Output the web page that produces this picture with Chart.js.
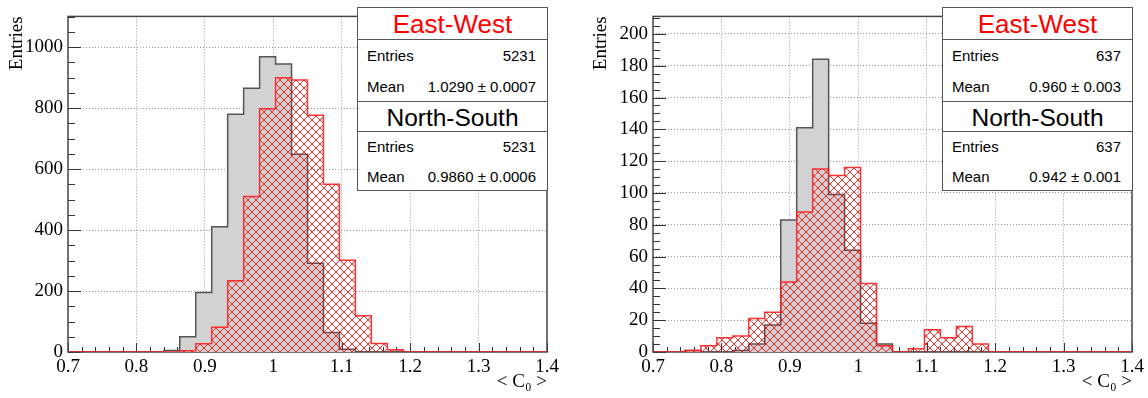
<!DOCTYPE html>
<html>
<head>
<meta charset="utf-8">
<script src="https://cdn.jsdelivr.net/npm/chart.js@4/dist/chart.umd.min.js"></script>
<style>
  html, body { margin: 0; padding: 0; background: #fff; }
  #wrap { position: relative; width: 1148px; height: 398px; }
  canvas { position: absolute; top: 0; }
  .stats {
    position: absolute; width: 191px; background: #fff;
    border: 1px solid #555; box-sizing: border-box;
    font-family: 'Liberation Sans', Arial, sans-serif; color: #000;
  }
  .stats .head { text-align: center; border-bottom: 1px solid #555; }
  .stats .row { display: flex; justify-content: space-between; padding: 0 11px 0 9px; font-size: 15px; }
  .ew { top: 7px; height: 96px; }
  .ew .head { height: 31px; line-height: 32px; font-size: 26px; color: #ff0000; }
  .ew .row { height: 31px; line-height: 31px; }
  .ns { top: 101px; height: 90px; }
  .ns .head { height: 29px; line-height: 31px; font-size: 24.5px; }
  .ns .row { height: 29.5px; line-height: 29.5px; }
</style>
</head>
<body>
<div id="wrap">
  <canvas id="leftChart" width="574" height="398" style="left:0"></canvas>
  <canvas id="rightChart" width="574" height="398" style="left:574px"></canvas>

  <div class="stats ew" style="left:357px">
    <div class="head">East-West</div>
    <div class="row"><span>Entries</span><span>5231</span></div>
    <div class="row"><span>Mean</span><span>1.0290 ± 0.0007</span></div>
  </div>
  <div class="stats ns" style="left:357px">
    <div class="head">North-South</div>
    <div class="row"><span>Entries</span><span>5231</span></div>
    <div class="row"><span>Mean</span><span>0.9860 ± 0.0006</span></div>
  </div>

  <div class="stats ew" style="left:942px">
    <div class="head">East-West</div>
    <div class="row"><span>Entries</span><span>637</span></div>
    <div class="row"><span>Mean</span><span>0.960 ± 0.003</span></div>
  </div>
  <div class="stats ns" style="left:942px">
    <div class="head">North-South</div>
    <div class="row"><span>Entries</span><span>637</span></div>
    <div class="row"><span>Mean</span><span>0.942 ± 0.001</span></div>
  </div>
</div>

<script>
// histogram binning: 30 bins between 0.7 and 1.4
const X_MIN = 0.7;
const X_MAX = 1.4;
const N_BINS = 30;

const xTickLabels = ['0.7', '0.8', '0.9', '1', '1.1', '1.2', '1.3', '1.4'];
const leftYTicks = [0, 200, 400, 600, 800, 1000];
const rightYTicks = [0, 20, 40, 60, 80, 100, 120, 140, 160, 180, 200];

// bin contents, left panel
const leftNorthSouth = [0, 0, 0, 0, 0, 0, 5, 50, 195, 411, 780, 865, 969, 945, 649, 291, 64, 9, 1, 0,
                        0, 0, 0, 0, 0, 0, 0, 0, 0, 0];
const leftEastWest = [0, 0, 0, 0, 0, 0, 0, 4, 27, 81, 234, 510, 798, 900, 892, 777, 550, 301, 119, 28,
                      7, 0, 0, 0, 0, 0, 0, 0, 0, 0];

// bin contents, right panel
const rightNorthSouth = [0, 0, 1, 0, 0, 1, 5, 17, 83, 141, 184, 99, 64, 18, 5, 0, 0, 0, 0, 0,
                         0, 0, 0, 0, 0, 0, 0, 0, 0, 0];
const rightEastWest = [0, 0, 1, 4, 9, 10, 21, 25, 44, 88, 115, 111, 116, 43, 4, 0, 2, 14, 9, 16,
                       5, 0, 0, 0, 0, 0, 0, 0, 0, 0];

const serif = "'Liberation Serif', 'Times New Roman', serif";
const gridGrey = '#9a9a9a';
const clear = 'rgba(0,0,0,0)';

// points at the left edge of every bin, drawn as a step line
function steps(values) {
    const w = (X_MAX - X_MIN) / N_BINS;
    const pts = values.map((v, i) => ({x: X_MIN + i * w, y: v}));
    pts.push({x: X_MAX, y: 0});
    return pts;
}

function crossHatch(color) {
    const c = document.createElement('canvas');
    c.width = 8;
    c.height = 8;
    const g = c.getContext('2d');
    g.strokeStyle = color;
    g.lineWidth = 1;
    g.beginPath();
    g.moveTo(-2, -2); g.lineTo(10, 10);
    g.moveTo(-2, 10); g.lineTo(10, -2);
    g.stroke();
    return g.createPattern(c, 'repeat');
}

// ROOT style frame with inward tick marks
const frameTicks = {
    id: 'frameTicks',
    beforeDatasetsDraw(chart, args, opts) {
        const {ctx, chartArea: a, scales: {x, y}} = chart;
        ctx.save();
        ctx.strokeStyle = '#333';
        ctx.lineWidth = 1;
        ctx.beginPath();
        for (let i = 0; i * opts.yMinor <= y.max; i++) {
            const py = Math.round(y.getPixelForValue(i * opts.yMinor)) + 0.5;
            const len = (i * opts.yMinor) % opts.yMajor === 0 ? 13 : 7;
            ctx.moveTo(a.left, py);
            ctx.lineTo(a.left + len, py);
        }
        for (let i = 0; i <= 35; i++) {
            const px = Math.round(x.getPixelForValue(X_MIN + i * 0.02)) + 0.5;
            const len = i % 5 === 0 ? 9 : 5;
            ctx.moveTo(px, a.bottom);
            ctx.lineTo(px, a.bottom - len);
        }
        ctx.stroke();
        ctx.lineWidth = 1.5;
        ctx.strokeStyle = '#444';
        ctx.strokeRect(a.left, a.top, a.right - a.left, a.bottom - a.top);
        ctx.restore();
    }
};

function createHistChart(id, northSouth, eastWest, yMax, yTicks, yMinor, yWidth, padRight, titlePad) {
    const ctx = document.getElementById(id).getContext('2d');
    new Chart(ctx, {
        type: 'line',
        data: {
            datasets: [
                {
                    label: 'East-West',
                    data: steps(eastWest),
                    stepped: 'before',
                    fill: 'origin',
                    backgroundColor: crossHatch('rgba(255, 0, 0, 0.8)'),
                    borderColor: 'rgba(255, 30, 30, 0.9)',
                    borderWidth: 1.5,
                    pointRadius: 0,
                    order: 0
                },
                {
                    label: 'North-South',
                    data: steps(northSouth),
                    stepped: 'before',
                    fill: 'origin',
                    backgroundColor: '#d2d2d2',
                    borderColor: '#555',
                    borderWidth: 1.5,
                    pointRadius: 0,
                    order: 1
                }
            ]
        },
        options: {
            responsive: false,
            animation: false,
            events: [],
            layout: {padding: {left: 0, right: padRight, top: 7, bottom: 0}},
            plugins: {
                legend: {display: false},
                tooltip: {enabled: false},
                frameTicks: {yMinor: yMinor, yMajor: yTicks[1]}
            },
            scales: {
                x: {
                    type: 'linear',
                    min: X_MIN,
                    max: X_MAX,
                    z: 1,
                    afterBuildTicks: s => { s.ticks = xTickLabels.map(t => ({value: parseFloat(t)})); },
                    afterFit: s => { s.height = 46; },
                    ticks: {
                        autoSkip: false,
                        maxRotation: 0,
                        padding: 4,
                        color: '#000',
                        font: {family: serif, size: 19},
                        callback: (v, i) => xTickLabels[i]
                    },
                    grid: {
                        drawTicks: false,
                        lineWidth: 1,
                        color: c => (c.index === 0 || c.index === xTickLabels.length - 1) ? clear : gridGrey
                    },
                    border: {display: false, dash: [1, 2]},
                    title: {
                        display: true,
                        text: '< C₀ >',
                        align: 'end',
                        color: '#000',
                        font: {family: serif, size: 19},
                        padding: {top: 0, bottom: 5}
                    }
                },
                y: {
                    min: 0,
                    max: yMax,
                    z: 1,
                    afterBuildTicks: s => { s.ticks = yTicks.map(v => ({value: v})); },
                    afterFit: s => { s.width = yWidth; },
                    ticks: {
                        padding: 5,
                        color: '#000',
                        font: {family: serif, size: 19},
                        callback: v => String(v)
                    },
                    grid: {
                        drawTicks: false,
                        lineWidth: 1,
                        color: c => c.index === 0 ? clear : gridGrey
                    },
                    border: {display: false, dash: [1, 2]},
                    title: {
                        display: true,
                        text: 'Entries',
                        align: 'end',
                        color: '#000',
                        font: {family: serif, size: 19},
                        padding: {top: titlePad, bottom: 0}
                    }
                }
            }
        },
        plugins: [frameTicks]
    });
}

createHistChart('leftChart', leftNorthSouth, leftEastWest, 1101, leftYTicks, 50, 68, 27, 5.5);
createHistChart('rightChart', rightNorthSouth, rightEastWest, 211, rightYTicks, 5, 79, 16, 16);
</script>
</body>
</html>
